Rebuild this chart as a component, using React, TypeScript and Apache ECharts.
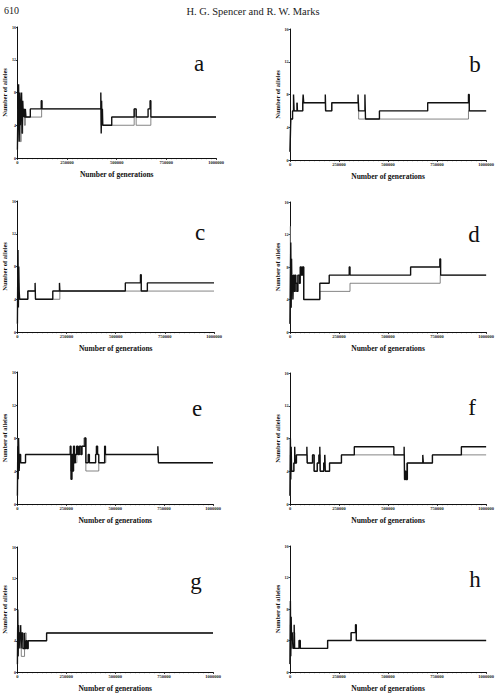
import { useEffect, useRef } from "react";
import * as echarts from "echarts";

// ---- data (generations, number of alleles) step series ----
const xTickValues = [0, 250000, 500000, 750000, 1000000];
const yTickValues = [0, 4, 8, 12, 16];
const panelLetters = ["a", "b", "c", "d", "e", "f", "g", "h"];

const aThick = [[0,1],[3000,7],[6000,9],[9000,2],[12000,8],[15000,4],[18000,6],[21000,8],[24000,3],[27000,7],[30000,5],[33000,6],[36000,5],[40000,6],[43000,5],[65000,6],[120000,7],[124000,6],[420000,8],[422000,3],[424000,7],[426000,4],[428000,6],[430000,4],[475000,5],[588000,6],[598000,5],[658000,6],[668000,7],[672000,5],[1000000,5]];
const aThin = [[0,1],[3000,6],[7000,4],[11000,7],[15000,2],[19000,6],[23000,3],[27000,5],[31000,6],[35000,4],[40000,5],[122000,6],[422000,4],[588000,6],[598000,4],[672000,5],[1000000,5]];

const bThick = [[0,1],[2000,3],[4000,5],[13000,6],[18000,8],[21000,6],[36000,7],[38000,6],[65000,7],[67000,8],[70000,7],[180000,8],[182000,6],[213000,7],[347000,8],[350000,6],[382000,8],[385000,5],[456000,6],[702000,7],[910000,8],[914000,6],[1000000,6]];
const bThin = [[0,1],[2000,4],[4000,5],[13000,6],[36000,7],[38000,6],[65000,7],[180000,6],[213000,7],[350000,5],[910000,6],[1000000,6]];

const cThick = [[0,1],[1500,6],[3000,10],[5000,3],[7000,8],[9000,5],[11500,4],[53000,5],[90000,6],[92000,4],[180000,5],[214000,6],[216000,5],[549000,6],[626000,7],[630000,5],[661000,6],[1000000,6]];
const cThin = [[0,1],[2000,7],[4000,4],[6000,6],[9000,5],[11500,4],[53000,5],[92000,4],[216000,5],[1000000,5]];

const dThick = [[0,1],[2000,6],[4000,11],[6000,3],[8000,9],[10000,5],[12000,7],[15000,4],[18000,7],[22000,5],[26000,7],[30000,6],[35000,5],[40000,7],[48000,6],[52000,8],[58000,7],[64000,8],[70000,4],[152000,6],[200000,7],[302000,8],[306000,7],[615000,8],[764000,9],[768000,7],[1000000,7]];
const dThin = [[0,1],[2000,13],[4000,5],[6000,9],[9000,4],[12000,6],[16000,5],[22000,6],[28000,5],[40000,6],[52000,7],[64000,8],[70000,4],[152000,5],[306000,6],[766000,7],[1000000,7]];

const eThick = [[0,1],[2000,7],[4000,3],[6000,8],[9000,4],[12000,6],[16600,5],[41500,6],[270000,7],[274000,3],[279000,6],[283000,4],[287000,7],[292000,5],[296000,6],[303000,7],[310000,6],[317000,7],[325000,6],[330000,7],[345000,8],[350000,5],[362000,6],[368000,5],[400000,6],[404000,7],[410000,6],[416000,5],[446000,7],[450000,6],[718000,7],[721000,5],[1000000,5]];
const eThin = [[0,1],[2000,8],[5000,4],[8000,6],[12000,5],[41500,6],[272000,4],[286000,6],[296000,5],[304000,6],[330000,7],[340000,8],[350000,4],[416000,5],[452000,6],[721000,5],[1000000,5]];

const fThick = [[0,1],[2000,8],[4000,3],[6000,7],[8200,4],[19700,5],[24000,7],[26000,5],[32800,6],[86000,7],[88000,5],[114800,6],[123000,4],[139000,5],[147500,6],[152000,7],[154000,4],[172000,5],[177000,6],[180000,4],[201600,5],[262300,6],[327900,7],[529500,6],[582000,7],[584000,3],[588000,4],[592000,3],[598400,5],[677000,6],[680000,5],[726200,6],[873800,7],[1000000,7]];
const fThin = [[0,1],[2000,6],[4000,4],[7000,5],[8200,4],[19700,5],[32800,6],[87000,5],[114800,6],[123000,4],[139000,5],[147500,6],[154000,4],[172000,5],[177000,6],[180000,4],[201600,5],[262300,6],[584000,4],[588000,3],[594000,5],[726200,6],[1000000,6]];

const gThick = [[0,1],[2000,8],[4000,2],[6000,6],[9000,3],[12000,5],[16600,6],[19000,3],[22000,5],[28000,3],[36500,5],[40000,3],[44800,4],[49800,3],[55000,4],[149300,5],[1000000,5]];
const gThin = [[0,1],[3000,6],[6000,4],[12000,5],[19900,2],[36500,5],[44800,3],[55000,4],[149300,5],[1000000,5]];

const hThick = [[0,1],[2000,9],[4000,2],[6000,7],[8000,4],[11500,5],[15000,3],[21300,6],[23000,3],[45900,4],[52500,3],[191800,4],[311500,5],[334000,6],[338000,4],[1000000,4]];
const hThin = [[0,1],[2000,6],[4000,3],[8000,5],[12000,4],[16000,5],[24600,3],[191800,4],[311500,5],[338000,4],[1000000,4]];

const thickSeries = [aThick, bThick, cThick, dThick, eThick, fThick, gThick, hThick];
const thinSeries = [aThin, bThin, cThin, dThin, eThin, fThin, gThin, hThin];

const xAxisName = "Number of generations";
const yAxisName = "Number of alleles";
const headerPage = "610";
const headerAuthors = "H. G. Spencer and R. W. Marks";

// ---- layout ----
const grids = [
  { left: 12, top: 27, width: 204, height: 131 },
  { left: 290, top: 29, width: 203, height: 131 },
  { left: 13, top: 201, width: 201, height: 131 },
  { left: 290, top: 202, width: 203, height: 130 },
  { left: 12, top: 372, width: 201, height: 132 },
  { left: 290, top: 373, width: 203, height: 131 },
  { left: 12, top: 547, width: 201, height: 129 },
  { left: 290, top: 546, width: 203, height: 128 },
];
const letterPos = [
  [199, 52], [475, 53], [200, 221], [474, 223],
  [197, 397], [472, 396], [196, 570], [475, 568],
];

const SERIF = "'Liberation Serif', 'DejaVu Serif', serif";

export default function App() {
  const ref = useRef<HTMLDivElement>(null);
  useEffect(() => {
    if (!ref.current) return;
    const chart = echarts.init(ref.current, undefined, { renderer: "svg" });
    const xAxes = grids.map((_, i) => ({
      type: "value",
      gridIndex: i,
      min: xTickValues[0],
      max: xTickValues[xTickValues.length - 1],
      interval: xTickValues[1] - xTickValues[0],
      name: xAxisName,
      nameLocation: "middle",
      nameGap: 12,
      nameTextStyle: { fontFamily: SERIF, fontSize: 7.5, fontWeight: "bold", color: "#111" },
      axisLine: { lineStyle: { color: "#111", width: 1 } },
      axisTick: { show: true, length: 2, lineStyle: { color: "#111", width: 0.8 } },
      minorTick: { show: true, splitNumber: 10, length: 1.2, lineStyle: { color: "#111", width: 0.6 } },
      axisLabel: {
        fontFamily: SERIF, fontSize: 4.5, fontWeight: "bold", color: "#222", margin: 2,
        formatter: (v: number) => String(v),
      },
      splitLine: { show: false },
    }));
    const yAxes = grids.map((_, i) => ({
      type: "value",
      gridIndex: i,
      min: yTickValues[0],
      max: yTickValues[yTickValues.length - 1],
      interval: yTickValues[1] - yTickValues[0],
      name: yAxisName,
      nameLocation: "middle",
      nameGap: 6,
      nameRotate: 90,
      nameTextStyle: { fontFamily: SERIF, fontSize: 6.5, fontWeight: "bold", color: "#111" },
      axisLine: { show: true, lineStyle: { color: "#111", width: 1 } },
      axisTick: { show: true, length: 1.5, lineStyle: { color: "#111", width: 0.8 } },
      axisLabel: {
        fontFamily: SERIF, fontSize: 4, fontWeight: "bold", color: "#222", margin: 1.5,
        formatter: (v: number) => String(v),
      },
      splitLine: { show: false },
    }));
    const series: any[] = [];
    grids.forEach((_, i) => {
      series.push({
        type: "line",
        xAxisIndex: i,
        yAxisIndex: i,
        step: "end",
        data: thinSeries[i],
        showSymbol: false,
        lineStyle: { color: "#666", width: 0.8 },
        z: 2,
      });
      series.push({
        type: "line",
        xAxisIndex: i,
        yAxisIndex: i,
        step: "end",
        data: thickSeries[i],
        showSymbol: false,
        lineStyle: { color: "#111", width: 1.4 },
        z: 3,
      });
    });
    const graphics: any[] = [
      { type: "text", left: 4, top: 5, style: { text: headerPage, fontFamily: SERIF, fontSize: 10, fill: "#222" } },
      { type: "text", x: 253, y: 11, style: { text: headerAuthors, fontFamily: SERIF, fontSize: 10.5, fill: "#222", align: "center", verticalAlign: "middle" } },
    ];
    panelLetters.forEach((l, i) => {
      graphics.push({
        type: "text",
        x: letterPos[i][0],
        y: letterPos[i][1],
        style: { text: l, fontFamily: SERIF, fontSize: 23, fill: "#111", align: "center", verticalAlign: "alphabetic" },
      });
    });
    chart.setOption({
      animation: false,
      backgroundColor: "#fff",
      grid: grids.map((g) => ({ ...g, containLabel: false })),
      xAxis: xAxes,
      yAxis: yAxes,
      series,
      graphic: graphics,
    });
    return () => chart.dispose();
  }, []);
  return (
    <div
      ref={ref}
      style={{ position: "absolute", left: 0, top: 0, width: 497, height: 693 }}
    />
  );
}
